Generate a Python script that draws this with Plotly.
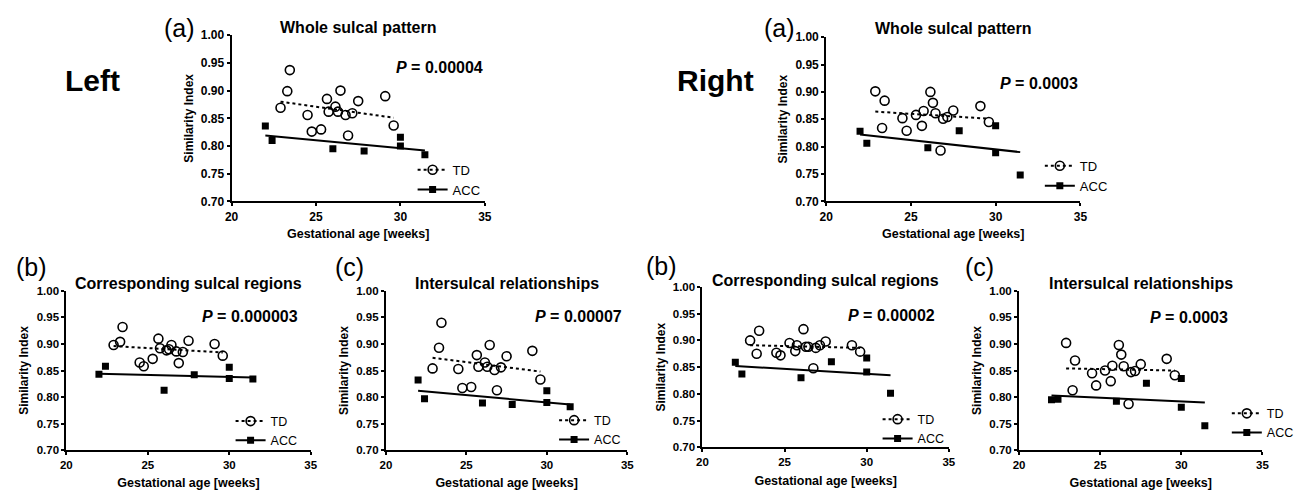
import plotly.graph_objects as go

W, H = 1309, 500
FONT = "Liberation Sans, Arial, Helvetica, sans-serif"

# ---------------- data ----------------
td_age = [22.9, 23.3, 23.45, 24.5, 24.75, 25.3, 25.65, 25.75, 26.15, 26.3,
          26.45, 26.75, 26.9, 27.15, 27.5, 29.1, 29.6]
acc_age = [22.0, 22.4, 26.0, 27.85, 30.0, 30.0, 31.45]

left_whole_td = [0.869, 0.899, 0.937, 0.856, 0.826, 0.830, 0.885, 0.862, 0.871, 0.862,
                 0.900, 0.856, 0.819, 0.859, 0.881, 0.890, 0.837]
left_whole_acc = [0.836, 0.810, 0.795, 0.791, 0.816, 0.800, 0.784]
left_whole_td_fit = [0.880, 0.851]
left_whole_acc_fit = [0.819, 0.792]

right_whole_td = [0.901, 0.834, 0.884, 0.852, 0.829, 0.858, 0.838, 0.865, 0.900, 0.880,
                  0.861, 0.793, 0.851, 0.854, 0.866, 0.874, 0.845]
right_whole_acc = [0.828, 0.806, 0.798, 0.829, 0.838, 0.789, 0.748]
right_whole_td_fit = [0.864, 0.851]
right_whole_acc_fit = [0.822, 0.790]

left_corr_td = [0.898, 0.904, 0.932, 0.865, 0.858, 0.872, 0.910, 0.892, 0.888, 0.890,
                0.898, 0.886, 0.864, 0.885, 0.906, 0.900, 0.878]
left_corr_acc = [0.843, 0.858, 0.813, 0.842, 0.856, 0.835, 0.834]
left_corr_td_fit = [0.896, 0.884]
left_corr_acc_fit = [0.844, 0.837]

left_inter_td = [0.854, 0.893, 0.940, 0.853, 0.817, 0.819, 0.879, 0.857, 0.865, 0.857,
                 0.898, 0.851, 0.813, 0.856, 0.877, 0.887, 0.833]
left_inter_acc = [0.832, 0.797, 0.789, 0.786, 0.812, 0.790, 0.782]
left_inter_td_fit = [0.874, 0.848]
left_inter_acc_fit = [0.812, 0.786]

right_corr_td = [0.900, 0.875, 0.918, 0.877, 0.872, 0.895, 0.880, 0.891, 0.921, 0.888,
                 0.888, 0.848, 0.886, 0.891, 0.898, 0.891, 0.879]
right_corr_acc = [0.859, 0.837, 0.830, 0.860, 0.867, 0.841, 0.801]
right_corr_td_fit = [0.891, 0.886]
right_corr_acc_fit = [0.852, 0.835]

right_inter_td = [0.902, 0.813, 0.869, 0.845, 0.822, 0.850, 0.830, 0.859, 0.898, 0.880,
                  0.858, 0.787, 0.847, 0.849, 0.862, 0.872, 0.841]
right_inter_acc = [0.795, 0.796, 0.792, 0.826, 0.835, 0.781, 0.746]
right_inter_td_fit = [0.854, 0.850]
right_inter_acc_fit = [0.803, 0.790]

x_ticks = [20, 25, 30, 35]
y_ticks = [0.70, 0.75, 0.80, 0.85, 0.90, 0.95, 1.00]

# ---------------- panel layout (pixels) ----------------
panels = [
    dict(td=left_whole_td, acc=left_whole_acc, tdfit=left_whole_td_fit, accfit=left_whole_acc_fit,
         title="Whole sulcal pattern", letter="(a)", p="0.00004",
         box=(227, 29, 483, 200), letter_xy=(174, 22), title_y=21.5,
         p_xy=(35.0, 0.942), leg=(410, 152), legfont=13, tickfont=12, xstand=6),
    dict(td=right_whole_td, acc=right_whole_acc, tdfit=right_whole_td_fit, accfit=right_whole_acc_fit,
         title="Whole sulcal pattern", letter="(a)", p="0.0003",
         box=(828, 31, 1085, 200), letter_xy=(781, 22), title_y=22,
         p_xy=(35.0, 0.9155), leg=(1044, 148), legfont=13, tickfont=12, xstand=6),
    dict(td=left_corr_td, acc=left_corr_acc, tdfit=left_corr_td_fit, accfit=left_corr_acc_fit,
         title="Corresponding sulcal regions", letter="(b)", p="0.000003",
         box=(60, 292, 307, 456), letter_xy=(25, 267), title_y=284,
         p_xy=(34.37, 0.951), leg=(226, 411), legfont=12.5, tickfont=11.5, xstand=8),
    dict(td=left_inter_td, acc=left_inter_acc, tdfit=left_inter_td_fit, accfit=left_inter_acc_fit,
         title="Intersulcal relationships", letter="(c)", p="0.00007",
         box=(383, 292, 627, 456), letter_xy=(346, 267), title_y=284,
         p_xy=(34.8, 0.951), leg=(553, 410), legfont=12.5, tickfont=11.5, xstand=8),
    dict(td=right_corr_td, acc=right_corr_acc, tdfit=right_corr_td_fit, accfit=right_corr_acc_fit,
         title="Corresponding sulcal regions", letter="(b)", p="0.00002",
         box=(703, 288, 952, 453), letter_xy=(662, 266), title_y=281,
         p_xy=(34.26, 0.946), leg=(880, 409), legfont=12.5, tickfont=11.5, xstand=9),
    dict(td=right_inter_td, acc=right_inter_acc, tdfit=right_inter_td_fit, accfit=right_inter_acc_fit,
         title="Intersulcal relationships", letter="(c)", p="0.0003",
         box=(1023, 292, 1269, 456), letter_xy=(983, 267), title_y=284,
         p_xy=(33.0, 0.950), leg=(1233, 403), legfont=12.5, tickfont=11.5, xstand=8),
]


def px(x):
    return x / W


def py(y):
    return 1 - y / H


def bold(v, fmt):
    return "<b>" + format(v, fmt) + "</b>"


fig = go.Figure()
annotations = []
layout = dict(
    width=W, height=H, margin=dict(l=0, r=0, t=0, b=0),
    paper_bgcolor="white", plot_bgcolor="white",
    font=dict(family=FONT, color="black"),
)

td_fit_x = [min(td_age), max(td_age)]
acc_fit_x = [min(acc_age), max(acc_age)]

for i, p in enumerate(panels, start=1):
    sfx = "" if i == 1 else str(i)
    xa, ya = "x" + sfx, "y" + sfx
    leg = "legend" + sfx
    x0, y0, x1, y1 = p["box"]

    # data markers
    fig.add_trace(go.Scatter(x=td_age, y=p["td"], mode="markers", xaxis=xa, yaxis=ya,
                             marker=dict(symbol="circle-open", size=9, color="black",
                                         line=dict(width=1.6, color="black")),
                             showlegend=False, legend=leg, hoverinfo="x+y"))
    fig.add_trace(go.Scatter(x=acc_age, y=p["acc"], mode="markers", xaxis=xa, yaxis=ya,
                             marker=dict(symbol="square", size=7, color="black"),
                             showlegend=False, legend=leg, hoverinfo="x+y"))
    # regression lines
    fig.add_trace(go.Scatter(x=td_fit_x, y=p["tdfit"], mode="lines", xaxis=xa, yaxis=ya,
                             line=dict(color="black", width=2, dash="dot"),
                             showlegend=False, legend=leg, hoverinfo="skip"))
    fig.add_trace(go.Scatter(x=acc_fit_x, y=p["accfit"], mode="lines", xaxis=xa, yaxis=ya,
                             line=dict(color="black", width=2),
                             showlegend=False, legend=leg, hoverinfo="skip"))
    # legend entries
    fig.add_trace(go.Scatter(x=[None], y=[None], mode="lines+markers", name="TD",
                             xaxis=xa, yaxis=ya, legend=leg,
                             line=dict(color="black", width=2, dash="dot"),
                             marker=dict(symbol="circle-open", size=9, color="black",
                                         line=dict(width=1.6, color="black"))))
    fig.add_trace(go.Scatter(x=[None], y=[None], mode="lines+markers", name="ACC",
                             xaxis=xa, yaxis=ya, legend=leg,
                             line=dict(color="black", width=2),
                             marker=dict(symbol="square", size=7, color="black")))

    layout["xaxis" + sfx] = dict(
        domain=[px(x0), px(x1)], anchor=ya, range=[20, 35],
        tickvals=x_ticks, ticktext=[bold(v, "d") for v in x_ticks],
        showline=True, linewidth=2, linecolor="black", ticks="outside", ticklen=3,
        tickwidth=2, tickcolor="black", showgrid=False, zeroline=False,
        tickfont=dict(family=FONT, size=p["tickfont"], color="black"),
        title=dict(text="<b>Gestational age [weeks]</b>", standoff=p["xstand"],
                   font=dict(family=FONT, size=12.5, color="black")),
    )
    layout["yaxis" + sfx] = dict(
        domain=[py(y1), py(y0)], anchor=xa, range=[0.70, 1.00],
        tickvals=y_ticks, ticktext=[bold(v, ".2f") for v in y_ticks],
        showline=True, linewidth=2, linecolor="black", ticks="outside", ticklen=3,
        tickwidth=2, tickcolor="black", showgrid=False, zeroline=False,
        tickfont=dict(family=FONT, size=p["tickfont"], color="black"),
        title=dict(text="<b>Similarity Index</b>", standoff=5,
                   font=dict(family=FONT, size=12, color="black")),
    )
    lx, ly = p["leg"]
    layout[leg] = dict(x=px(lx), y=py(ly), xanchor="left", yanchor="top",
                       bgcolor="rgba(0,0,0,0)", borderwidth=0,
                       font=dict(family=FONT, size=p["legfont"], color="black"),
                       itemwidth=30, tracegroupgap=0)

    # panel letter
    annotations.append(dict(text=p["letter"], x=px(p["letter_xy"][0]), y=py(p["letter_xy"][1]),
                            xref="paper", yref="paper", xanchor="center", yanchor="middle",
                            showarrow=False, font=dict(family=FONT, size=25, color="black")))
    # panel title
    annotations.append(dict(text="<b>" + p["title"] + "</b>", x=px((x0 + x1) / 2), y=py(p["title_y"]),
                            xref="paper", yref="paper", xanchor="center", yanchor="middle",
                            showarrow=False, font=dict(family=FONT, size=16, color="black")))
    # P value
    annotations.append(dict(text="<b><i>P</i> = " + p["p"] + "</b>", x=p["p_xy"][0], y=p["p_xy"][1],
                            xref=xa, yref=ya, xanchor="right", yanchor="middle",
                            showarrow=False, font=dict(family=FONT, size=16, color="black")))

# side labels
annotations.append(dict(text="<b>Left</b>", x=px(86), y=py(76), xref="paper", yref="paper",
                        xanchor="center", yanchor="middle", showarrow=False,
                        font=dict(family=FONT, size=30, color="black")))
annotations.append(dict(text="<b>Right</b>", x=px(716), y=py(76), xref="paper", yref="paper",
                        xanchor="center", yanchor="middle", showarrow=False,
                        font=dict(family=FONT, size=30, color="black")))

layout["annotations"] = annotations
fig.update_layout(**layout)
fig.write_html("out.html", config={"displayModeBar": False},
               post_script="document.body.style.margin='0';document.body.style.overflow='hidden';")
